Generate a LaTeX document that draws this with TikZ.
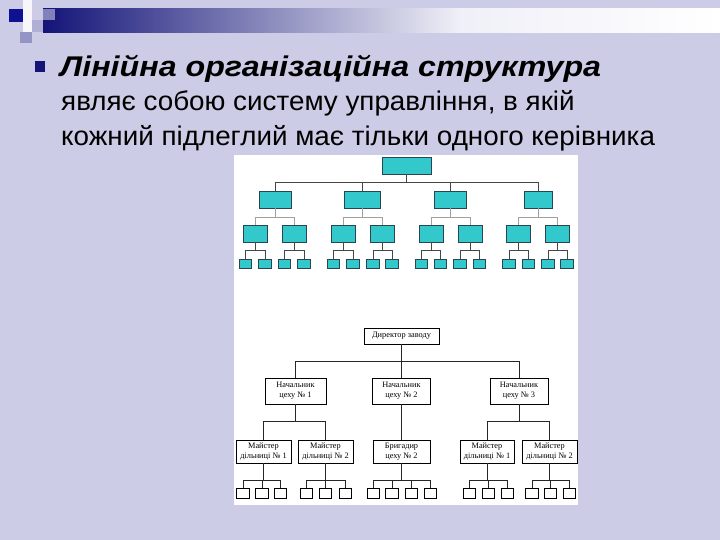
\documentclass[tikz,border=0pt]{standalone}
\usepackage{fontspec}
\usepackage{graphicx}
\setmainfont{Liberation Sans}
\newfontfamily\serifcyr{Liberation Serif}
\definecolor{bgc}{RGB}{204,204,230}
\definecolor{navyc}{RGB}{20,20,120}
\definecolor{tealfill}{RGB}{51,200,204}
\definecolor{tealborder}{RGB}{40,70,80}
\definecolor{conndark}{RGB}{70,70,70}
\definecolor{connlight}{RGB}{160,160,160}
\tikzset{
  tbox/.style={draw=tealborder, fill=tealfill, line width=0.8pt, inner sep=0pt, minimum height=17pt},
  tsmall/.style={draw=tealborder, fill=tealfill, line width=0.7pt, inner sep=0pt, minimum width=12.5pt, minimum height=9pt},
  conn/.style={draw=conndark, line width=0.9pt},
  connl/.style={draw=connlight, line width=0.8pt},
  wbox/.style={draw=black, fill=white, line width=0.7pt, inner sep=0pt, align=center, font=\serifcyr\fontsize{8.3}{10}\selectfont},
  wsmall/.style={draw=black, fill=white, line width=0.6pt, inner sep=0pt, minimum width=12.5pt, minimum height=10pt},
  lconn/.style={draw=black!85, line width=0.7pt},
  txt/.style={anchor=base west, inner sep=0pt}
}
\begin{document}
\begin{tikzpicture}[x=1pt,y=-1pt]
\useasboundingbox (0,0) rectangle (720,540);
\fill[bgc] (0,0) rectangle (720,540);
% decoration top-left
\fill[white!85!bgc] (23,0) rectangle (32,43);
\fill[navyc!80!blue] (9,9) rectangle (23,22);
\fill[bgc!70!navyc] (20,32) rectangle (32,43);
\fill[bgc!85!navyc] (32,20) rectangle (43,32);
\shade[left color=navyc, right color=bgc!30!white] (43,9) rectangle (460,33);
\shade[left color=bgc!30!white, right color=white] (460,9) rectangle (720,33);
\fill[bgc!60!navyc] (43,9) rectangle (55,20);
% title
\fill[navyc] (35,61) rectangle (45,72);
\node[txt, font=\bfseries\itshape\fontsize{28.5}{32}\selectfont] (title) at (60,77) {\scalebox{1.13}[1]{Лінійна організаційна структура}};
\node[txt, font=\fontsize{27}{30}\selectfont] (line2) at (61,111) {\scalebox{1.03}[1]{являє собою систему управління, в якій}};
\node[txt, font=\fontsize{27}{30}\selectfont] (line3) at (61,146) {\scalebox{1.03}[1]{кожний підлеглий має тільки одного керівника}};
% white panel
\fill[white] (234,155) rectangle (578,505);
% ---------- top diagram ----------
\node[tbox, minimum width=49pt] (t0) at (406.5,165.5) {};
\foreach \n/\x/\w in {1/275/32,2/362/36,3/450/32,4/538/28}
  \node[tbox, minimum width=\w pt] (t\n) at (\x,199.5) {};
\foreach \n/\x in {1/255,2/294,3/343,4/382,5/431,6/470,7/518.5,8/557}
  \node[tbox, minimum width=24pt] (u\n) at (\x,233.5) {};
\foreach \n/\x in {1/245.5,2/265,3/284.5,4/304,5/333.5,6/353,7/373,8/392,9/421.5,10/440.5,11/460,12/479.5,13/509,14/528.5,15/548,16/567}
  \node[tsmall] (v\n) at (\x,263.5) {};
\foreach \n in {1,...,4}
  \draw[conn] (t0.south) -- (t0.south |- 0,182) -| (t\n.north);
\foreach \p/\a/\b in {1/1/2,2/3/4,3/5/6,4/7/8}{
  \draw[connl] (t\p.south) -- (t\p.south |- 0,217) -| (u\a.north);
  \draw[connl] (t\p.south |- 0,217) -| (u\b.north);
}
\foreach \p in {1,...,8}{
  \pgfmathtruncatemacro\a{2*\p-1}
  \pgfmathtruncatemacro\b{2*\p}
  \draw[conn] (u\p.south) -- (u\p.south |- 0,250) -| (v\a.north);
  \draw[conn] (u\p.south |- 0,250) -| (v\b.north);
}
% ---------- lower diagram ----------
\node[wbox, minimum width=75pt, minimum height=16pt] (d) at (401.5,336) {Директор заводу};
\node[wbox, minimum width=61pt, minimum height=26pt] (n1) at (295.5,391) {Начальник\\цеху № 1};
\node[wbox, minimum width=58pt, minimum height=26pt] (n2) at (401.5,391) {Начальник\\цеху № 2};
\node[wbox, minimum width=58pt, minimum height=26pt] (n3) at (519,391) {Начальник\\цеху № 3};
\foreach \n in {1,2,3}
  \draw[lconn] (d.south) -- (d.south |- 0,361) -| (n\n.north);
\node[wbox, minimum width=55pt, minimum height=23pt] (m1) at (263.5,451.5) {Майстер\\дільниці № 1};
\node[wbox, minimum width=55pt, minimum height=23pt] (m2) at (325.5,451.5) {Майстер\\дільниці № 2};
\node[wbox, minimum width=57pt, minimum height=23pt] (b) at (401.5,451.5) {Бригадир\\цеху № 2};
\node[wbox, minimum width=54pt, minimum height=23pt] (m3) at (487,451.5) {Майстер\\дільниці № 1};
\node[wbox, minimum width=55pt, minimum height=23pt] (m4) at (549.5,451.5) {Майстер\\дільниці № 2};
\draw[lconn] (n1.south) -- (n1.south |- 0,421) -| (m1.north);
\draw[lconn] (n1.south |- 0,421) -| (m2.north);
\draw[lconn] (n2.south) -- (b.north);
\draw[lconn] (n3.south) -- (n3.south |- 0,421) -| (m3.north);
\draw[lconn] (n3.south |- 0,421) -| (m4.north);
\foreach \n/\x in {1/243,2/262,3/280.5,4/306.5,5/325.5,6/345.5,7/373.5,8/392,9/411.5,10/430.5,11/469.5,12/488.5,13/507.5,14/532,15/550.5,16/569.5}
  \node[wsmall] (s\n) at (\x,493) {};
\foreach \p/\list in {m1/{1,2,3},m2/{4,5,6},b/{7,8,9,10},m3/{11,12,13},m4/{14,15,16}}{
  \draw[lconn] (\p.south) -- (\p.south |- 0,480);
  \foreach \c in \list
    \draw[lconn] (\p.south |- 0,480) -| (s\c.north);
}
\end{tikzpicture}
\end{document}
